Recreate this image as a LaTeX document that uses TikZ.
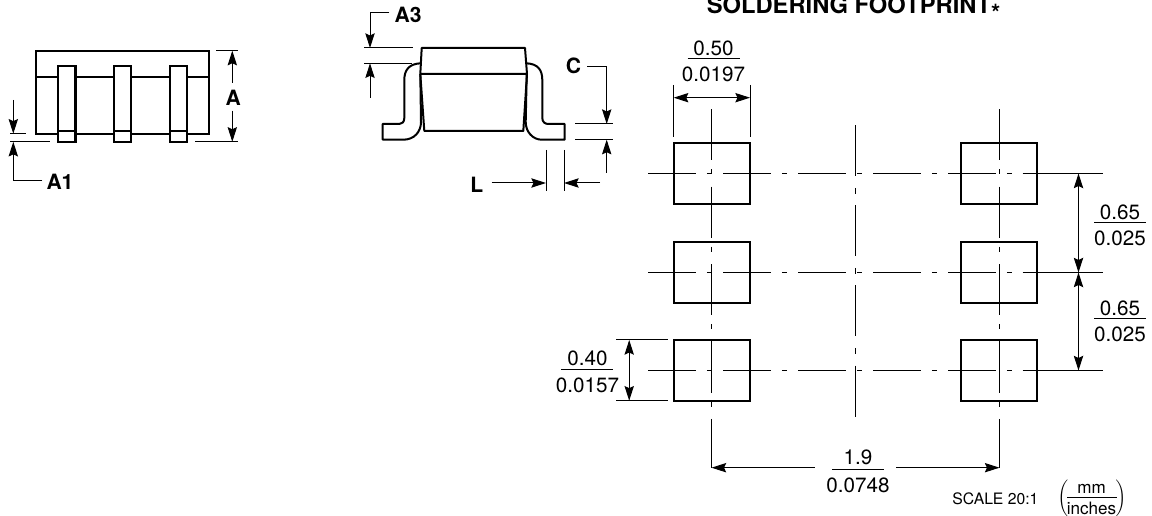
\documentclass[tikz,border=0pt]{standalone}
\usepackage{fontspec}
\setmainfont{TeX Gyre Heros}
\usetikzlibrary{arrows.meta}

\tikzset{
    outline/.style={line width=1.7pt, line join=miter},
    sideline/.style={line width=1.5pt, line join=round},
    thinline/.style={line width=0.75pt},
    dimarrow/.style={line width=0.75pt, -{Stealth[length=11pt,width=7pt,inset=1.6pt]}},
    dimboth/.style={line width=0.75pt, {Stealth[length=11pt,width=7pt,inset=1.6pt]}-{Stealth[length=11pt,width=7pt,inset=1.6pt]}},
    hcenter/.style={line width=0.75pt, dash pattern=on 35.6pt off 8.25pt on 3.75pt off 8.65pt},
    vcenter/.style={line width=0.75pt, dash pattern=on 38.25pt off 6.75pt on 3.75pt off 9.3pt},
    midcenter/.style={line width=0.75pt, dash pattern=on 38.25pt off 8.6pt on 4.5pt off 8.65pt},
    value/.style={inner sep=0pt, font=\fontsize{15.5pt}{15.5pt}\selectfont},
    small/.style={inner sep=0pt, font=\fontsize{11.8pt}{11.8pt}\selectfont},
    unit/.style={inner sep=0pt, font=\fontsize{12.8pt}{12.8pt}\selectfont},
    dimlabel/.style={inner sep=0pt, font=\fontsize{15.8pt}{15.8pt}\selectfont\bfseries}
}

\begin{document}
\begin{tikzpicture}[x=0.75pt, y=-0.75pt]
    \useasboundingbox (0,0) rectangle (1152,516);
    \clip (0,0) rectangle (1152,516);

    % end view
    \draw[outline] (36,50.7) rectangle (209,133.7);
    \draw[outline] (36,76.7) -- (209,76.7);
    \foreach \x in {58,113.7,169.7} {
        \draw[outline, fill=white] (\x,65.7) rectangle (\x+17.5,142);
        \draw[outline] (\x,131.3) -- (\x+17.5,131.3);
    }
    \draw[thinline] (216,50.7) -- (238,50.7);
    \draw[thinline] (195,141.8) -- (238,141.8);
    \node[dimlabel] (labelA) at (233.3,98) {A};
    \draw[dimarrow] (232.3,83) -- (232.3,50.7);
    \draw[dimarrow] (232.3,110.7) -- (232.3,141.8);
    \draw[thinline] (10,133.7) -- (26,133.7);
    \draw[thinline] (10,141.8) -- (50,141.8);
    \draw[dimarrow] (13.3,100) -- (13.3,133.7);
    \draw[dimarrow] (42.3,181) -- (13.3,181) -- (13.3,141.8);
    \node[dimlabel] (labelAone) at (60,182) {A1};

    % side view
    \draw[sideline] (420.3,63.3) .. controls (409,64) and (404.3,70) .. (404.3,80)
        -- (404.3,118) .. controls (404.3,122) and (402,124) .. (399.3,124)
        -- (382.7,124) -- (382.7,139.7) -- (403.3,139.7)
        .. controls (414,139.7) and (421,132) .. (421,122) -- (420.3,74);
    \draw[sideline] (526.7,63.3) .. controls (538,64) and (542.3,70) .. (542.3,80)
        -- (542.3,118) .. controls (542.3,122) and (545,124) .. (548.3,124)
        -- (564.7,124) -- (564.7,139.7) -- (541.7,139.7)
        .. controls (533,139.7) and (525.7,132) .. (525.7,122) -- (526.7,74);
    \draw[sideline] (420.3,74) -- (421.7,48) -- (525,48) -- (527,74) -- cycle;
    \draw[sideline] (420.3,74) -- (424.3,131) -- (523.3,131) -- (527,74);
    \draw[thinline] (364,48) -- (412.7,48);
    \draw[thinline] (364,63.3) -- (412,63.3);
    \draw[dimarrow] (389.3,12.7) -- (370,12.7) -- (370,48);
    \draw[dimarrow] (370,98) -- (370,63.3);
    \node[dimlabel] (labelAthree) at (408,14.5) {A3};
    \draw[thinline] (575,124) -- (613,124);
    \draw[thinline] (575,139.7) -- (613,139.7);
    \draw[dimarrow] (587.3,66.5) -- (606.7,66.5) -- (606.7,124);
    \draw[dimarrow] (606.7,173) -- (606.7,139.7);
    \node[dimlabel] (labelC) at (573.5,66) {C};
    \draw[thinline] (546,150) -- (546,191);
    \draw[thinline] (564,150) -- (564,191);
    \draw[dimarrow] (491.7,183) -- (546,183);
    \draw[dimarrow] (600,183) -- (564,183);
    \node[dimlabel] (labelL) at (476.7,185) {L};

    % footprint
    \node[anchor=base, inner sep=0pt, font=\fontsize{17.8pt}{17.8pt}\selectfont\bfseries] (title) at (853.5,13.5) {SOLDERING FOOTPRINT\raisebox{-6pt}{*}};
    \foreach \y in {173.5,272.5,370.5} {
        \draw[hcenter] (648.3,\y) -- (1022.7,\y);
        \draw[thinline] (1022.7,\y) -- (1102.7,\y);
        \draw[outline] (673.7,\y-30.2) rectangle (750,\y+30.2);
        \draw[outline] (961,\y-30.2) rectangle (1037.3,\y+30.2);
    }
    \draw[vcenter] (711.5,109.3) -- (711.5,467.7);
    \draw[vcenter] (999.5,109.3) -- (999.5,467.7);
    \draw[midcenter] (855.5,125.5) -- (855.5,417);

    % dimensions
    \draw[thinline] (673.7,85) -- (673.7,136.7);
    \draw[thinline] (750,85) -- (750,136.7);
    \draw[dimboth] (673.7,97.7) -- (750,97.7);
    \draw[dimboth] (1078.5,173.5) -- (1078.5,272.5);
    \draw[dimboth] (1078.5,272.5) -- (1078.5,370.5);
    \draw[thinline] (616.4,340) -- (668,340);
    \draw[thinline] (616.4,400.7) -- (668,400.7);
    \draw[dimboth] (629.2,340) -- (629.2,400.7);
    \draw[dimarrow] (814.5,467.7) -- (711.5,467.7);
    \draw[dimarrow] (896.4,467.7) -- (999.5,467.7);

    % name/x/top y/rule y/bottom y/mm/inches
    \foreach \nm/\xc/\ya/\yr/\yb/\tm/\tb in {
        width/713.5/48.3/59/74/0.50/0.0197,
        pitchA/1120/212/222.3/238.3/0.65/0.025,
        pitchB/1120/308/319/334/0.65/0.025,
        height/587.4/358/369.3/385/0.40/0.0157,
        span/858/457.3/469.7/485/1.9/0.0748} {
        \node[value] (\nm top) at (\xc,\ya) {\tm};
        \draw[thinline] (\xc-26,\yr) -- (\xc+26,\yr);
        \node[value] (\nm bottom) at (\xc,\yb) {\tb};
    }

    \node[small] (scale) at (995.4,499) {SCALE 20:1};
    \node[unit] (unitmm) at (1091.5,489.3) {mm};
    \draw[thinline] (1067,497.7) -- (1116.5,497.7);
    \node[unit] (unitin) at (1091.5,508) {inches};
    \node[inner sep=0pt, yscale=0.92] (parenL) at (1063,498) {$\Bigg($};
    \node[inner sep=0pt, yscale=0.92] (parenR) at (1121,498) {$\Bigg)$};
\end{tikzpicture}
\end{document}
